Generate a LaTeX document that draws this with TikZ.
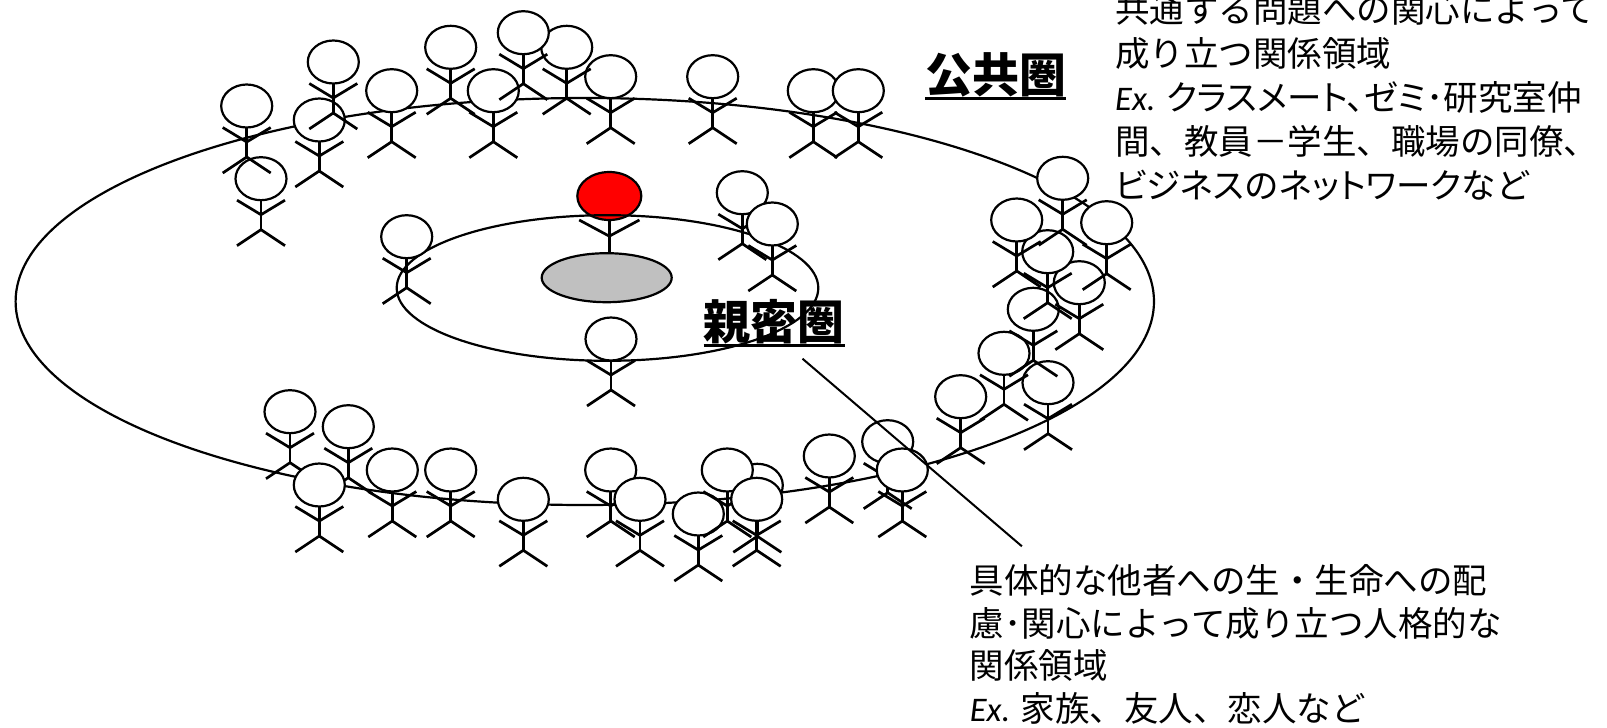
\documentclass[tikz,border=0pt]{standalone}
\usepackage{fontspec}
\setmainfont{Noto Sans CJK JP}
\newfontfamily\propkana{Noto Sans CJK JP}[RawFeature=+palt]
\newfontfamily\exfont{Carlito}
\definecolor{tablegray}{HTML}{C0C0C0}
\definecolor{selfred}{HTML}{FF0000}
% thick rule straight under a heading
\newcommand{\ulined}[1]{\vtop{\hbox{#1}\kern0.5pt\hrule height 2.7pt}}

\begin{document}
\begin{tikzpicture}[x=1pt,y=-1pt,
    ring/.style={line width=2.2pt},
    limb/.style={line width=2.7pt},
    headcol/.store in=\headcol, headcol=white,
    person/.pic={
      \draw[limb] (-24,21.5) -- (0,36) -- (24,21.5);
      \draw[limb] (0,21.5) -- (0,51);
      \draw[limb] (-24,67) -- (0,51) -- (24,67);
      \draw[line width=2.2pt,fill=\headcol] (0,0) ellipse [x radius=25.5,y radius=21.5];},
    title/.style={font=\fontsize{47}{50}\selectfont\bfseries,inner sep=0pt,anchor=base},
    note/.style={font=\fontsize{34.5}{44}\selectfont,align=left,inner sep=0pt,anchor=base west}]
  \useasboundingbox (0,0) rectangle (1607,728);

  % public sphere
  \draw[ring] (584.8,301.5) ellipse [x radius=569.2,y radius=203.5];

  % self and the table
  \pic[headcol=selfred,xscale=1.255,yscale=1.116] (self) at (609.3,196) {person};
  \draw[line width=2.2pt,fill=tablegray] (606.7,277.7) ellipse [x radius=65,y radius=24.5];

  % intimate sphere
  \draw[ring] (607.5,288) ellipse [x radius=210.8,y radius=72.8];
  \foreach \px/\py in {406.7/236.7,742.3/192.7,772.3/224,611/339}
    \pic at (\px,\py) {person};

  % crowd along the outer ring: top, right, bottom
  \foreach \px/\py in {261/178.7,319.3/120,246.7/106,391.7/90.7,493.3/90.7,
      813.3/90.7,858.3/90.7,610.7/76.7,712.7/76.7,333.3/62,450.7/47.3,
      566.7/47.3,523.3/32.7}
    \pic at (\px,\py) {person};
  \foreach \px/\py in {960.7/396.7,1048/382.7,1004/353.3,1033.3/309.3,
      1079.3/282.7,1047.7/251.7,1106.7/222.7,1016.7/220,1062.7/178.3}
    \pic at (\px,\py) {person};
  \foreach \px/\py in {290/411.7,348.3/426.7,887.7/441.7,829.3/456,392.3/470,
      450.7/470,610.7/470,902.3/470,319.3/485,757.3/485.3,523.3/499.3,
      640/499.3,698.3/514,727.3/470,756.7/499.3}
    \pic at (\px,\py) {person};

  \node[title] (pub) at (995.5,92) {\ulined{公共圏}};
  \node[title] (intim) at (774.2,339) {\ulined{親密圏}};

  % base of a note is its last line
  \node[note] (pubnote) at (1115,198.3) {共通する問題への関心によって\\
    成り立つ関係領域\\
    {\exfont\itshape Ex.} {\propkana クラスメート、ゼミ･}研究室仲\\
    間、教員－学生、職場の同僚、\\
    {\propkana ビジネス}の{\propkana ネットワーク}など};
  \node[note,font=\fontsize{34.5}{42.5}\selectfont] (intimnote) at (969.6,721)
    {具体的な他者への生・生命への配\\
    慮･関心によって成り立つ人格的な\\
    関係領域\\
    {\exfont\itshape Ex.} 家族、友人、恋人など};

  \coordinate (ptrtop) at (802.5,358.7);
  \coordinate (ptrbot) at (1021.9,546.3);
  \draw[line width=2pt] (ptrtop) -- (ptrbot);
\end{tikzpicture}
\end{document}
